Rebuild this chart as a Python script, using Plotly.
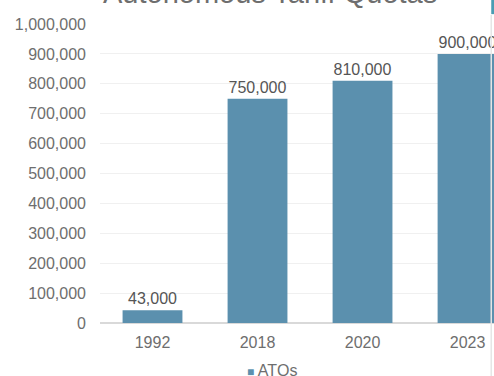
import plotly.graph_objects as go

categories = ["1992", "2018", "2020", "2023"]
atq_values = [43000, 750000, 810000, 900000]
series_name = "ATQs"
title_text = "Autonomous Tariff Quotas"

bar_color = "#5b90ae"
text_color = "#6e6e6e"
label_color = "#555555"
font_family = "Liberation Sans"

fig = go.Figure()
fig.add_trace(go.Bar(
    x=categories,
    y=atq_values,
    name=series_name,
    marker=dict(color=bar_color, line=dict(width=0)),
    text=[f"{v:,}" for v in atq_values],
    textposition="outside",
    textfont=dict(size=16, color=label_color, family=font_family),
    cliponaxis=False,
    width=0.57,
    showlegend=False,
))

# title (partly cut off at the top, as in the reference)
fig.add_annotation(
    text=title_text, xref="paper", yref="paper",
    x=0.431, y=1.0, yshift=31, xanchor="center", yanchor="middle",
    showarrow=False, font=dict(size=29, color=text_color, family=font_family),
)

# legend entry
fig.add_annotation(
    text=f"<span style='color:{bar_color};font-size:12px'>■</span> {series_name}",
    xref="paper", yref="paper", x=0.438, y=0, yshift=-47,
    xanchor="center", yanchor="middle", showarrow=False,
    font=dict(size=16, color=text_color, family=font_family),
)

# right-edge frame line and accent
fig.add_shape(type="line", xref="paper", yref="paper", x0=0.993, x1=0.993,
              y0=-0.18, y1=1.03, line=dict(color="#e6e6e6", width=1.5))
fig.add_shape(type="rect", xref="paper", yref="paper", x0=0.993, x1=1.01,
              y0=1.033, y1=1.09, fillcolor="#4a9db3", line=dict(width=0))

fig.update_layout(
    width=494, height=376,
    margin=dict(l=100, r=0, t=24, b=53, autoexpand=False),
    paper_bgcolor="white", plot_bgcolor="white",
    font=dict(family=font_family, size=16, color=text_color),
    bargap=0.43,
    showlegend=False,
    xaxis=dict(type="category", range=[-0.5, 3.252], showgrid=False,
               showline=False, ticks="", ticklabelstandoff=8,
               tickfont=dict(size=16, color=text_color, family=font_family)),
    yaxis=dict(range=[0, 1000000], dtick=100000, tickformat=",d",
               showgrid=True, gridcolor="#f0f0f0", gridwidth=1,
               zeroline=True, zerolinecolor="#d9d9d9", zerolinewidth=2,
               showline=False, ticks="", ticklabelstandoff=13,
               tickfont=dict(size=16, color=text_color, family=font_family)),
)

fig.write_html("out.html", config={"displayModeBar": False},
               post_script="document.body.style.margin='0';")
